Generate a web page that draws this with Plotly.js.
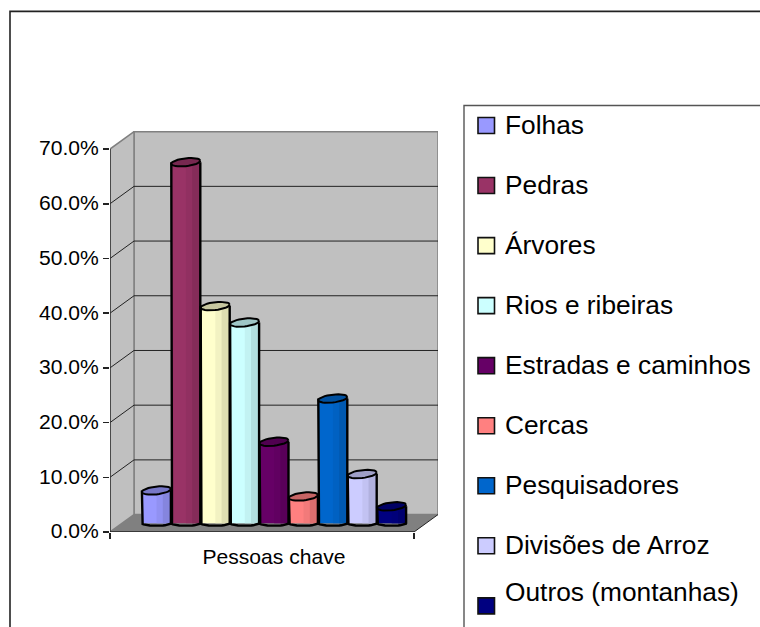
<!DOCTYPE html>
<html>
<head>
<meta charset="utf-8">
<script src="https://cdn.plot.ly/plotly-3.0.1.min.js"></script>
<style>html,body{margin:0;padding:0;background:#fff}#c{width:760px;height:627px}</style>
</head>
<body>
<div id="c"></div>
<script>
var seriesNames = ['Folhas','Pedras','Árvores','Rios e ribeiras','Estradas e caminhos','Cercas','Pesquisadores','Divisões de Arroz','Outros (montanhas)'];
var seriesValues = [6.0,66.0,39.7,36.7,14.9,4.9,22.8,9.0,3.1];
var seriesColors = ['#9999FF','#993366','#FFFFCC','#CCFFFF','#660066','#FF8080','#0066CC','#CCCCFF','#000080'];
var categoryLabel = 'Pessoas chave';
var yTickValues = [0,10,20,30,40,50,60,70];
var yTickLabels = ['0.0%','10.0%','20.0%','30.0%','40.0%','50.0%','60.0%','70.0%'];

// plot frame in pixels
var L=110,R=438,T=131,B=531.7,W=760,H=627;
var yTop=73.3, slotPx=29.4;
var unitPx=(B-T)/yTop;
var xMax=(R-L)/2/slotPx;
var depthX=24/slotPx, depthY=17.4/unitPx;
var midY=depthY/2;
var barW=29/slotPx;
var FONT='"Liberation Sans", Arial, sans-serif';

function px(x){return (x-L)/(R-L);}
function py(y){return (B-y)/(B-T);}
function shade(hex,f){
  var n=parseInt(hex.slice(1),16);
  var r=Math.round((n>>16&255)*f),g=Math.round((n>>8&255)*f),b=Math.round((n&255)*f);
  return 'rgb('+r+','+g+','+b+')';
}

var traces=[];
seriesValues.forEach(function(v,i){
  var cx=i-4, col=seriesColors[i], name=seriesNames[i];
  var hw=barW/2, top=v+midY;
  // body (the true bar)
  traces.push({type:'bar',name:name,x:[cx],y:[v],base:[midY],width:[barW],
    marker:{color:col,line:{width:0}},showlegend:false});
  // cylinder shading bands
  traces.push({type:'bar',x:[cx+barW*0.17],y:[v],base:[midY],width:[barW*0.33],
    marker:{color:shade(col,0.95),line:{width:0}},showlegend:false,hoverinfo:'skip'});
  traces.push({type:'bar',x:[cx+barW*0.36],y:[v],base:[midY],width:[barW*0.28],
    marker:{color:shade(col,0.87),line:{width:0}},showlegend:false,hoverinfo:'skip'});
  // rounded foot and outline
  var fx=[cx-hw],fy=[top],k;
  for(k=0;k<=20;k++){
    var a=Math.PI*k/20;
    fx.push(cx-hw*Math.cos(a)); fy.push(midY-0.45*Math.sin(a));
  }
  fx.push(cx+hw); fy.push(top);
  traces.push({type:'scatter',mode:'lines',x:fx,y:fy,
    line:{color:'#000',width:2.4},showlegend:false,hoverinfo:'skip'});
  // top cap
  var cxs=[],cys=[];
  for(k=0;k<=32;k++){
    var t=2*Math.PI*k/32;
    cxs.push(cx+hw*Math.cos(t));
    cys.push(top+0.72*Math.sin(t)+0.28*Math.cos(t));
  }
  traces.push({type:'scatter',mode:'lines',x:cxs,y:cys,fill:'toself',fillcolor:shade(col,0.78),
    line:{color:'#000',width:2},showlegend:false,hoverinfo:'skip'});
});

var fl=-xMax, fr=xMax-depthX, bl=-xMax+depthX, br=xMax;
var shapes=[];
function dataShape(o){o.xref='x';o.yref='y';o.layer='below';shapes.push(o);}
function dPath(p){return 'M'+p.map(function(q){return q[0]+','+q[1];}).join('L')+'Z';}
// back wall
dataShape({type:'rect',x0:bl,x1:br,y0:depthY,y1:70+depthY,fillcolor:'#C0C0C0',line:{color:'#808080',width:1.5}});
// side wall
dataShape({type:'path',path:dPath([[fl,0],[bl,depthY],[bl,70+depthY],[fl,70]]),fillcolor:'#C0C0C0',line:{color:'#808080',width:1.5}});
// floor
dataShape({type:'path',path:dPath([[fl,0],[fr,0],[br,depthY],[bl,depthY]]),fillcolor:'#808080',line:{width:0}});
yTickValues.forEach(function(t){
  if(t>0&&t<70){
    dataShape({type:'line',x0:bl,x1:br,y0:t+depthY,y1:t+depthY,line:{color:'#222',width:1}});
    dataShape({type:'line',x0:fl,x1:bl,y0:t,y1:t+depthY,line:{color:'#222',width:1}});
  }
});
dataShape({type:'line',x0:fr,x1:br,y0:0,y1:depthY,line:{color:'#222',width:1}});
dataShape({type:'line',x0:fl,x1:fl,y0:0,y1:70,line:{color:'#333',width:1.5}});
dataShape({type:'line',x0:fl,x1:fr,y0:0,y1:0,line:{color:'#222',width:1.5}});

// outer frame and legend frame
shapes.push({type:'rect',xref:'paper',yref:'paper',layer:'below',x0:px(10),x1:px(800),y0:py(11.5),y1:py(700),fillcolor:'rgba(0,0,0,0)',line:{color:'#222',width:1.6}});
shapes.push({type:'rect',xref:'paper',yref:'paper',layer:'below',x0:px(464),x1:px(800),y0:py(105.5),y1:py(700),fillcolor:'#fff',line:{color:'#555',width:1.4}});

// legend
var legendTextY=[125,185,245,305,365,425,485,545,592];
var annotations=[];
seriesNames.forEach(function(n,i){
  var sy=125.5+60*i;
  shapes.push({type:'rect',xref:'paper',yref:'paper',x0:px(478),x1:px(494.5),y0:py(sy-8),y1:py(sy+8),fillcolor:seriesColors[i],line:{color:'#111',width:1.6}});
  annotations.push({xref:'paper',yref:'paper',x:px(503),y:py(legendTextY[i]),text:n,showarrow:false,xanchor:'left',yanchor:'middle',align:'left',
    font:{family:FONT,size:26.3,color:'#000'}});
});

var layout={
  width:W,height:H,autosize:false,
  margin:{l:L,r:W-R,t:T,b:H-B,pad:0},
  paper_bgcolor:'#fff',plot_bgcolor:'rgba(0,0,0,0)',
  barmode:'overlay',showlegend:false,
  font:{family:FONT,color:'#000'},
  xaxis:{type:'linear',range:[-xMax,xMax],showgrid:false,zeroline:false,showline:false,
    tickmode:'array',tickvals:[0],ticktext:[categoryLabel],ticks:'',ticklabelstandoff:10,tickfont:{family:FONT,size:21.1,color:'#000'},
    minor:{tickmode:'array',tickvals:[fl,fr],ticks:'outside',ticklen:6,tickwidth:1.5,tickcolor:'#222',showgrid:false}},
  yaxis:{range:[0,yTop],showgrid:false,zeroline:false,showline:false,
    tickmode:'array',tickvals:yTickValues,ticktext:yTickLabels,ticks:'outside',ticklen:6,tickwidth:1.5,tickcolor:'#222',
    ticklabelshift:-1,
    tickfont:{family:FONT,size:21.1,color:'#000'}},
  shapes:shapes,annotations:annotations
};
Plotly.newPlot('c',traces,layout,{displayModeBar:false,staticPlot:true});
</script>
</body>
</html>
